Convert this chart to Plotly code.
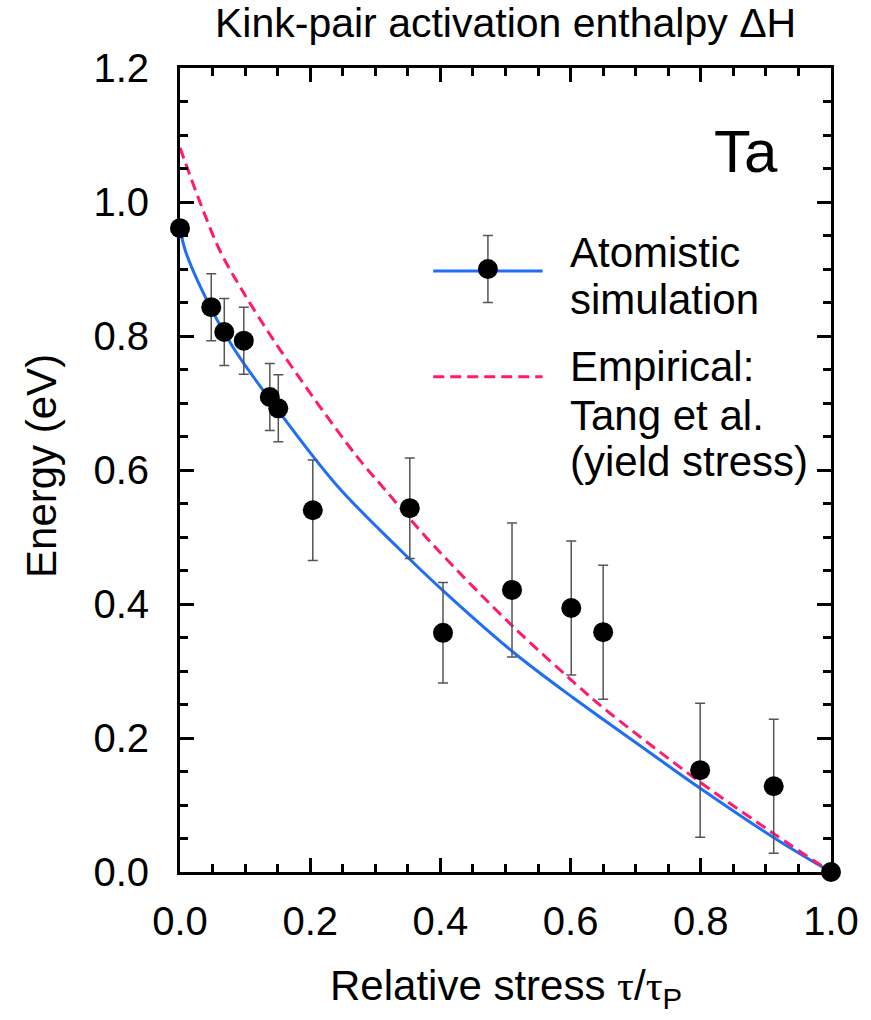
import plotly.graph_objects as go

# ---- data ----
sim_x = [0.0, 0.048, 0.068, 0.098, 0.138, 0.151, 0.204, 0.353, 0.404, 0.510, 0.601, 0.650, 0.799, 0.912, 1.0]
sim_y = [0.961, 0.843, 0.806, 0.793, 0.709, 0.692, 0.540, 0.543, 0.357, 0.421, 0.394, 0.358, 0.152, 0.128, 0.0]
sim_err = [0.0, 0.05, 0.05, 0.05, 0.05, 0.05, 0.075, 0.075, 0.075, 0.10, 0.10, 0.10, 0.10, 0.10, 0.0]

fit_x = [0.0, 0.008, 0.035, 0.081, 0.150, 0.241, 0.338, 0.404, 0.512, 0.604, 0.722, 0.799, 0.911, 1.0]
fit_y = [0.961, 0.928, 0.866, 0.784, 0.690, 0.577, 0.481, 0.420, 0.328, 0.260, 0.178, 0.125, 0.052, 0.0]

emp_x = [0.0, 0.031, 0.061, 0.095, 0.154, 0.271, 0.312, 0.389, 0.512, 0.619, 0.645, 0.799, 0.911, 1.0]
emp_y = [1.081, 0.999, 0.928, 0.869, 0.779, 0.621, 0.574, 0.488, 0.366, 0.271, 0.249, 0.134, 0.058, 0.0]

x_ticks = [0.0, 0.2, 0.4, 0.6, 0.8, 1.0]
y_ticks = [0.0, 0.2, 0.4, 0.6, 0.8, 1.0, 1.2]

legend_labels = ["Atomistic", "simulation", "Empirical:", "Tang et al.", "(yield stress)"]

# ---- styles ----
FONT = "Liberation Sans, Arial, sans-serif"
BLUE = "#1f6ef5"
PINK = "#ff1a70"
ERRC = "#555555"
DASH = "11px,6px"

fig = go.Figure()

fig.add_trace(go.Scatter(x=fit_x, y=fit_y, mode="lines",
                         line=dict(color=BLUE, width=3, shape="spline", smoothing=1.0),
                         showlegend=False, hoverinfo="skip"))
fig.add_trace(go.Scatter(x=emp_x, y=emp_y, mode="lines",
                         line=dict(color=PINK, width=3, dash=DASH, shape="spline", smoothing=1.0),
                         showlegend=False, hoverinfo="skip"))
fig.add_trace(go.Scatter(x=sim_x, y=sim_y, mode="markers",
                         marker=dict(color="black", size=20),
                         error_y=dict(type="data", array=sim_err, color=ERRC, thickness=1.5, width=5),
                         cliponaxis=False, showlegend=False))

# ---- legend drawn inside plot (layout geometry) ----
lg_x0, lg_x1 = 0.389, 0.557
lg_y1, lg_y2 = 0.897, 0.739
fig.add_trace(go.Scatter(x=[lg_x0, lg_x1], y=[lg_y1, lg_y1], mode="lines",
                         line=dict(color=BLUE, width=3), showlegend=False, hoverinfo="skip"))
fig.add_trace(go.Scatter(x=[(lg_x0 + lg_x1) / 2], y=[0.90], mode="markers",
                         marker=dict(color="black", size=20),
                         error_y=dict(type="constant", value=0.05, color=ERRC, thickness=1.5, width=5),
                         showlegend=False, hoverinfo="skip"))
fig.add_trace(go.Scatter(x=[lg_x0, lg_x1], y=[lg_y2, lg_y2], mode="lines",
                         line=dict(color=PINK, width=3, dash=DASH), showlegend=False, hoverinfo="skip"))

annots = []
lab_y = [0.925, 0.854, 0.754, 0.682, 0.612]
for t, yy in zip(legend_labels, lab_y):
    annots.append(dict(x=0.596, y=yy, xref="x", yref="y", text=t, showarrow=False,
                       xanchor="left", yanchor="middle", font=dict(size=42, family=FONT, color="black")))

annots.append(dict(x=0.87, y=1.075, xref="x", yref="y", text="Ta", showarrow=False,
                   xanchor="center", yanchor="middle", font=dict(size=60, family=FONT, color="black")))

annots.append(dict(x=0.5, y=1.056, xref="paper", yref="paper", text="Kink-pair activation enthalpy ΔH",
                   showarrow=False, xanchor="center", yanchor="middle",
                   font=dict(size=41, family=FONT, color="black")))

TAU = "<span style='font-family:Liberation Serif'>τ</span>"
annots.append(dict(x=0.5, y=-0.145, xref="paper", yref="paper",
                   text="Relative stress " + TAU + "/" + TAU + "<sub>P</sub>",
                   showarrow=False, xanchor="center", yanchor="middle",
                   font=dict(size=42, family=FONT, color="black")))

annots.append(dict(x=-0.212, y=0.505, xref="paper", yref="paper", text="Energy (eV)",
                   textangle=-90, showarrow=False, xanchor="center", yanchor="middle",
                   font=dict(size=42, family=FONT, color="black")))

axis_common = dict(showline=True, linecolor="black", linewidth=3, mirror="ticks",
                   ticks="inside", ticklen=14, tickwidth=3, tickcolor="black",
                   showgrid=False, zeroline=False, tickformat=".1f",
                   tickfont=dict(size=40, family=FONT, color="black"),
                   minor=dict(ticks="inside", ticklen=8, tickwidth=2.5, tickcolor="black", dtick=0.05,
                              showgrid=False))

fig.update_layout(
    width=871, height=1020,
    margin=dict(l=180, r=40, t=68, b=148),
    plot_bgcolor="white", paper_bgcolor="white",
    xaxis=dict(range=[0, 1], tickvals=x_ticks, ticklabelstandoff=12, **axis_common),
    yaxis=dict(range=[0, 1.2], tickvals=y_ticks, ticklabelstandoff=20, **axis_common),
    annotations=annots,
    showlegend=False,
)

fig.write_html("out.html")
